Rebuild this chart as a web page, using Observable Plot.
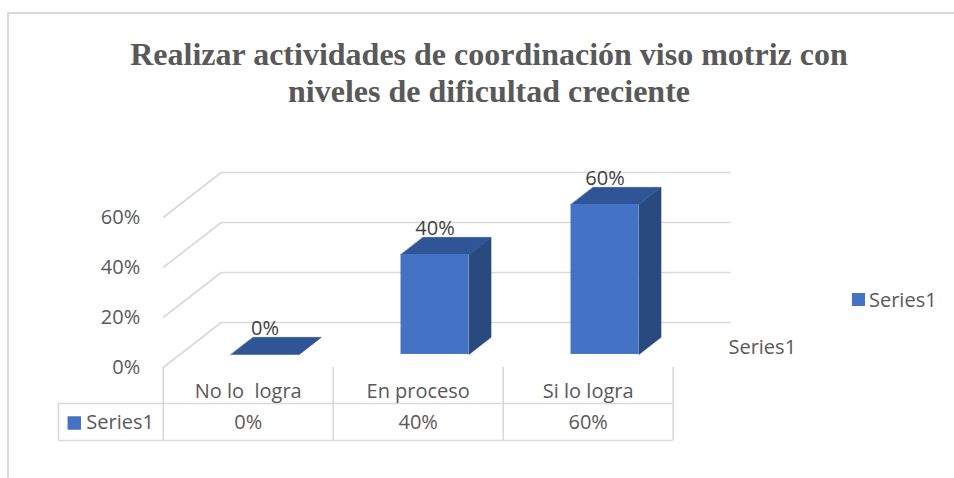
<!DOCTYPE html>
<html><head><meta charset="utf-8">
<script src="https://cdn.jsdelivr.net/npm/d3@7"></script>
<script src="https://cdn.jsdelivr.net/npm/@observablehq/plot@0.6"></script>
<style>
body{margin:0;background:#fff;}
#wrap{position:relative;width:954px;height:478px;overflow:hidden;font-family:"Open Sans",sans-serif;}
#frame{position:absolute;left:7px;top:12px;width:1000px;height:500px;border-left:2px solid #d9d9d9;border-top:2px solid #d9d9d9;}
#title{position:absolute;left:0;top:36px;width:978px;text-align:center;font:bold 32px/37px "Liberation Serif",serif;color:#595959;}
#chart{position:absolute;left:0;top:120px;}
#chart text{white-space:pre;}
#legend{position:absolute;left:852px;top:286px;font-size:20px;line-height:27px;color:#595959;display:flex;align-items:center;}
#legend .sw{display:inline-block;width:13px;height:13px;background:#4472C4;margin-right:4px;}
</style></head>
<body><div id="wrap"><div id="frame"></div><div id="title"></div><div id="chart"></div><div id="legend"></div></div>
<script>
const titleLines = ["Realizar actividades de coordinación viso motriz con", "niveles de dificultad creciente"];
const categories = ["No lo  logra", "En proceso", "Si lo logra"];
const values = [0, 40, 60];
const yTicks = [0, 20, 40, 60];
const seriesName = "Series1";

// 3-D geometry (in scale units)
const DX = 58 / 170, DY = 18;      // full depth offset of the back wall
const D0 = 0.29, D1 = 0.67, HW = 0.2; // bar depth front/back, half width
const layout = {rowTop: -14.4, rowBottom: -29.2, tableLeft: -0.616, rowText: -22.2,
  swatchU: -0.523, labelU: -0.452, depthU: 3.325, depthV: 8};

const colors = {front: "#4472C4", top: "#2F5597", side: "#294A7E", grid: "#d9d9d9"};

document.getElementById("title").innerHTML = titleLines.join("<br>");
document.getElementById("legend").innerHTML = `<span class="sw"></span><span>${seriesName}</span>`;

const bars = categories.map((c, i) => ({c, v: values[i], u: i + 0.5}));
const pt = (c, u, v, d) => ({c, x: u + d * DX, y: v + d * DY});
const topFaces = bars.flatMap(b => [
  pt(b.c, b.u - HW, b.v, D0), pt(b.c, b.u + HW, b.v, D0),
  pt(b.c, b.u + HW, b.v, D1), pt(b.c, b.u - HW, b.v, D1)]);
const sideFaces = bars.flatMap(b => [
  pt(b.c, b.u + HW, 0, D0), pt(b.c, b.u + HW, 0, D1),
  pt(b.c, b.u + HW, b.v, D1), pt(b.c, b.u + HW, b.v, D0)]);

const chart = Plot.plot({
  width: 954, height: 358,
  marginLeft: 162.7, marginRight: 281.3, marginTop: 97, marginBottom: 111,
  x: {domain: [0, 3], axis: null},
  y: {domain: [0, 60], axis: null},
  style: {fontFamily: "'Open Sans', sans-serif", fontSize: "20px", color: "#595959", background: "transparent", overflow: "visible"},
  marks: [
    // back wall gridlines and side diagonals
    Plot.ruleY(yTicks, {y: d => d + DY, x1: () => DX, x2: () => 3 + DX, stroke: colors.grid, strokeWidth: 1.6}),
    Plot.link(yTicks, {x1: () => 0, y1: d => d, x2: () => DX, y2: d => d + DY, stroke: colors.grid, strokeWidth: 1.6}),
    // data table
    Plot.ruleX([0, 1, 2, 3], {x: d => d, y1: () => 0, y2: () => layout.rowBottom, stroke: colors.grid, strokeWidth: 1.6}),
    Plot.ruleX([layout.tableLeft], {x: d => d, y1: () => layout.rowTop, y2: () => layout.rowBottom, stroke: colors.grid, strokeWidth: 1.6}),
    Plot.ruleY([layout.rowTop, layout.rowBottom], {y: d => d, x1: () => layout.tableLeft, x2: () => 3, stroke: colors.grid, strokeWidth: 1.6}),
    Plot.text(bars, {x: "u", y: () => layout.rowText, text: b => b.v + "%", fill: "#595959", fontSize: 20}),
    Plot.dot([seriesName], {x: () => layout.swatchU, y: () => layout.rowText, symbol: "square", r: 7.6, fill: colors.front, stroke: "none"}),
    Plot.text([seriesName], {x: () => layout.labelU, y: () => layout.rowText, text: d => d, textAnchor: "start", fill: "#595959", fontSize: 20}),
    // 3-D bars
    Plot.line(sideFaces, {x: "x", y: "y", z: "c", fill: colors.side, stroke: colors.side, strokeWidth: 0.5, curve: "linear-closed"}),
    Plot.line(topFaces, {x: "x", y: "y", z: "c", fill: colors.top, stroke: colors.top, strokeWidth: 0.5, curve: "linear-closed"}),
    Plot.rect(bars, {x1: b => b.u - HW + D0 * DX, x2: b => b.u + HW + D0 * DX, y1: () => D0 * DY, y2: b => b.v + D0 * DY, fill: colors.front}),
    // data labels
    Plot.text(bars, {x: b => b.u + D0 * DX, y: b => b.v + D1 * DY, dy: -9, text: b => b.v + "%", fill: "#404040", fontSize: 20}),
    // axes
    Plot.axisY(yTicks, {tickFormat: d => d + "%", tickSize: 0, tickPadding: 23, fontSize: 20, label: null}),
    Plot.axisX([0.5, 1.5, 2.5], {tickFormat: d => categories[Math.floor(d)], tickSize: 0, tickPadding: 16, fontSize: 20, label: null}),
    // depth axis label
    Plot.text([seriesName], {x: () => layout.depthU, y: () => layout.depthV, text: d => d, textAnchor: "start", fill: "#595959", fontSize: 20})
  ]
});
document.getElementById("chart").appendChild(chart);
</script>
</body></html>
